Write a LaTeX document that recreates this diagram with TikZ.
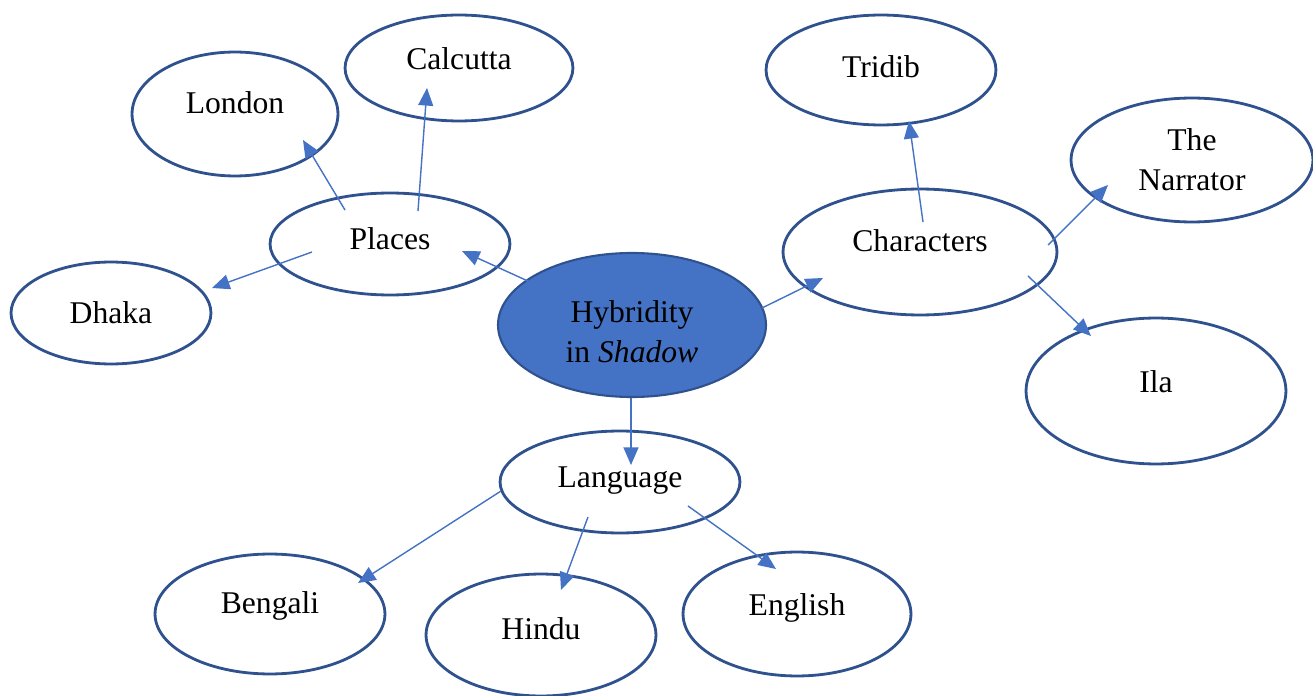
\documentclass[tikz,border=0pt]{standalone}
\usepackage{fontspec}
\setmainfont{Liberation Serif}
\usetikzlibrary{shapes.geometric,arrows.meta}
\definecolor{edgeblue}{HTML}{2F528F}
\definecolor{fillblue}{HTML}{4472C4}
\begin{document}
\begin{tikzpicture}[x=0.02cm,y=-0.02cm,
  bubble/.style={ellipse,draw=edgeblue,line width=1.6pt,fill=white,inner sep=0pt},
  hub/.style={bubble,fill=fillblue,line width=1.2pt},
  txt/.style={inner sep=0pt,align=center,font=\fontsize{18}{22.7}\selectfont},
  link/.style={draw=fillblue,line width=0.8pt,-{Triangle[length=10pt,width=8.5pt]}}]
\useasboundingbox (0,0) rectangle (1313,696);
\def\ell#1#2#3#4#5#6#7{\node[bubble,minimum width=#4*0.04cm,minimum height=#5*0.04cm] (#1) at (#2,#3) {};
  \node[txt] (#1-t) at ([yshift=-#7*0.02cm]#1.center) {#6};}
\ell{calcutta}{459}{68}{114}{53}{Calcutta}{-9}
\ell{london}{235}{114}{103}{62}{London}{-11}
\ell{places}{390}{244}{120}{51}{Places}{-5}
\ell{dhaka}{111}{313}{100}{51}{Dhaka}{0}
\node[hub,minimum width=268*0.02cm,minimum height=144*0.02cm] (hyb) at (632,325) {};
\node[txt] (hyb-t) at ([yshift=-7*0.02cm]hyb.center) {Hybridity\\in \textit{Shadow}};
\ell{tridib}{881}{70}{115}{55}{Tridib}{-3}
\ell{narrator}{1192}{160}{121}{62}{The\\Narrator}{0}
\ell{characters}{920}{252}{137}{63}{Characters}{-11}
\ell{ila}{1156}{391}{130}{73}{Ila}{-9}
\ell{language}{620}{482}{120}{51}{Language}{-1}
\ell{bengali}{270}{614}{115}{60}{Bengali}{-8}
\ell{hindu}{541}{635}{115}{61}{Hindu}{-6}
\ell{english}{797}{614}{114}{62}{English}{-6}
% connector end points
\coordinate (h1) at (530,282); \coordinate (p0) at (462,251);
\coordinate (p1) at (345,210); \coordinate (l0) at (303,140);
\coordinate (p2) at (418,211); \coordinate (c0) at (427,88);
\coordinate (p3) at (312,252); \coordinate (d0) at (212,288);
\coordinate (h2) at (762,308); \coordinate (ch0) at (823,278);
\coordinate (ch1) at (923,222); \coordinate (t0) at (909,121);
\coordinate (ch2) at (1048,245); \coordinate (n0) at (1108,185);
\coordinate (ch3) at (1028,276); \coordinate (i0) at (1091,336);
\coordinate (h3) at (631,398); \coordinate (la0) at (631,465);
\coordinate (la1) at (501,491); \coordinate (b0) at (358,583);
\coordinate (la2) at (588,517); \coordinate (hi0) at (561,590);
\coordinate (la3) at (688,506); \coordinate (e0) at (776,569);
\draw[link] (h1) -- (p0);
\draw[link] (p1) -- (l0);
\draw[link] (p2) -- (c0);
\draw[link] (p3) -- (d0);
\draw[link] (h2) -- (ch0);
\draw[link] (ch1) -- (t0);
\draw[link] (ch2) -- (n0);
\draw[link] (ch3) -- (i0);
\draw[link] (h3) -- (la0);
\draw[link] (la1) -- (b0);
\draw[link] (la2) -- (hi0);
\draw[link] (la3) -- (e0);
\end{tikzpicture}
\end{document}
